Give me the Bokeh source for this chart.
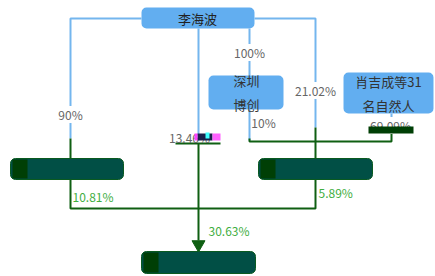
from bokeh.plotting import figure
from bokeh.models import ColumnDataSource, Range1d
from bokeh.core.properties import value
from bokeh.embed import file_html
from bokeh.resources import INLINE

# ---- data ----
top_holder = "李海波"
mid_nodes = ["深圳\n博创", "肖吉成等31\n名自然人"]
blue_pcts = ["90%", "100%", "21.02%", "10%", "69.09%"]
node_pct = "13.46%"
green_pcts = ["10.81%", "5.89%", "30.63%"]

FONT = value("Noto Sans CJK SC")
BLUE = "#62aef0"
BLUE_LINE = "#74b6ee"
GREEN_LINE = "#0f5f12"
GREEN_TXT = "#3fae3f"
GREY = "#666666"

p = figure(width=435, height=276, output_backend="svg", toolbar_location=None,
           x_range=Range1d(0, 435), y_range=Range1d(276, 0), min_border=0)
p.axis.visible = False
p.grid.visible = False
p.outline_line_color = None
p.background_fill_color = "white"

# ---- blue boxes ----
bl = [141, 208, 343]
br = [254, 283, 433]
bt = [7, 75, 72]
bb = [28, 109, 113]
p.quad(left=bl, right=br, top=bt, bottom=bb, fill_color=BLUE, line_color=None, border_radius=5)

# ---- blue lines ----
p.multi_line(xs=[[141, 70, 70], [198, 198], [249, 249], [254, 315, 315], [249, 249], [391, 391]],
             ys=[[18, 18, 138], [28, 140], [28, 75], [18, 18, 127], [109, 140], [113, 122]],
             line_color=BLUE_LINE, line_width=2)

# ---- green lines ----
p.multi_line(xs=[[70, 70], [315, 315], [70, 70, 315, 315], [249, 249, 391, 391], [175, 220], [198, 198]],
             ys=[[138, 158], [127, 158], [179, 208, 208, 179], [138, 141, 141, 132], [143, 143], [143, 240]],
             line_color=GREEN_LINE, line_width=2)
p.scatter(x=[198], y=[244], marker="inverted_triangle", size=13, fill_color=GREEN_LINE, line_color=GREEN_LINE)

# ---- dark green boxes ----
gl = [10, 258, 141]
gr = [123, 372, 255]
gt = [158, 158, 251]
gb = [179, 179, 273]
p.quad(left=gl, right=gr, top=gt, bottom=gb, fill_color="#014f45", line_color="#0a5a20",
       line_width=1, border_radius=5)
p.quad(left=[x + 2 for x in gl], right=[x + 17 for x in gl], top=[t + 1 for t in gt], bottom=[b - 1 for b in gb],
       fill_color="#003f05", line_color=None)

# ---- texts in blue boxes ----
p.text(x=[197], y=[18], text=[top_holder], text_font=FONT, text_font_size="13px",
       text_align="center", text_baseline="middle", text_color="#222222")
p.text(x=[246, 388], y=[92, 93], text=mid_nodes, text_font=FONT, text_font_size="13px",
       text_align="center", text_baseline="middle", text_color="#333333", text_line_height=1.25)

# ---- blue-part percentage labels ----
src = ColumnDataSource(dict(x=[70, 249, 315, 263, 390], y=[114, 52, 90, 122, 125], t=blue_pcts))
p.text(x="x", y="y", text="t", source=src, text_font=FONT, text_font_size="12px",
       text_align="center", text_baseline="middle", text_color=GREY,
       background_fill_color="white")
p.text(x=[189], y=[137], text=[node_pct], text_font=FONT, text_font_size="12px",
       text_align="center", text_baseline="middle", text_color=GREY)
# small dark node rectangles over labels
p.quad(left=[368, 197], right=[413, 212], top=[126, 133], bottom=[133, 140],
       fill_color=["#003f05", "#1a1f4a"], line_color=None)
p.quad(left=[194, 205, 212], right=[197, 209, 220], top=[133, 132, 133], bottom=[140, 138, 140],
       fill_color=["#ff40ff", "#40ffff", "#ff60ff"], line_color=None)

# ---- green labels ----
p.text(x=[72, 318, 208], y=[196, 192, 230], text=green_pcts, text_font=FONT, text_font_size="12px",
       text_align="left", text_baseline="middle", text_color=GREEN_TXT)

open("out.html", "w").write(file_html(p, INLINE))
